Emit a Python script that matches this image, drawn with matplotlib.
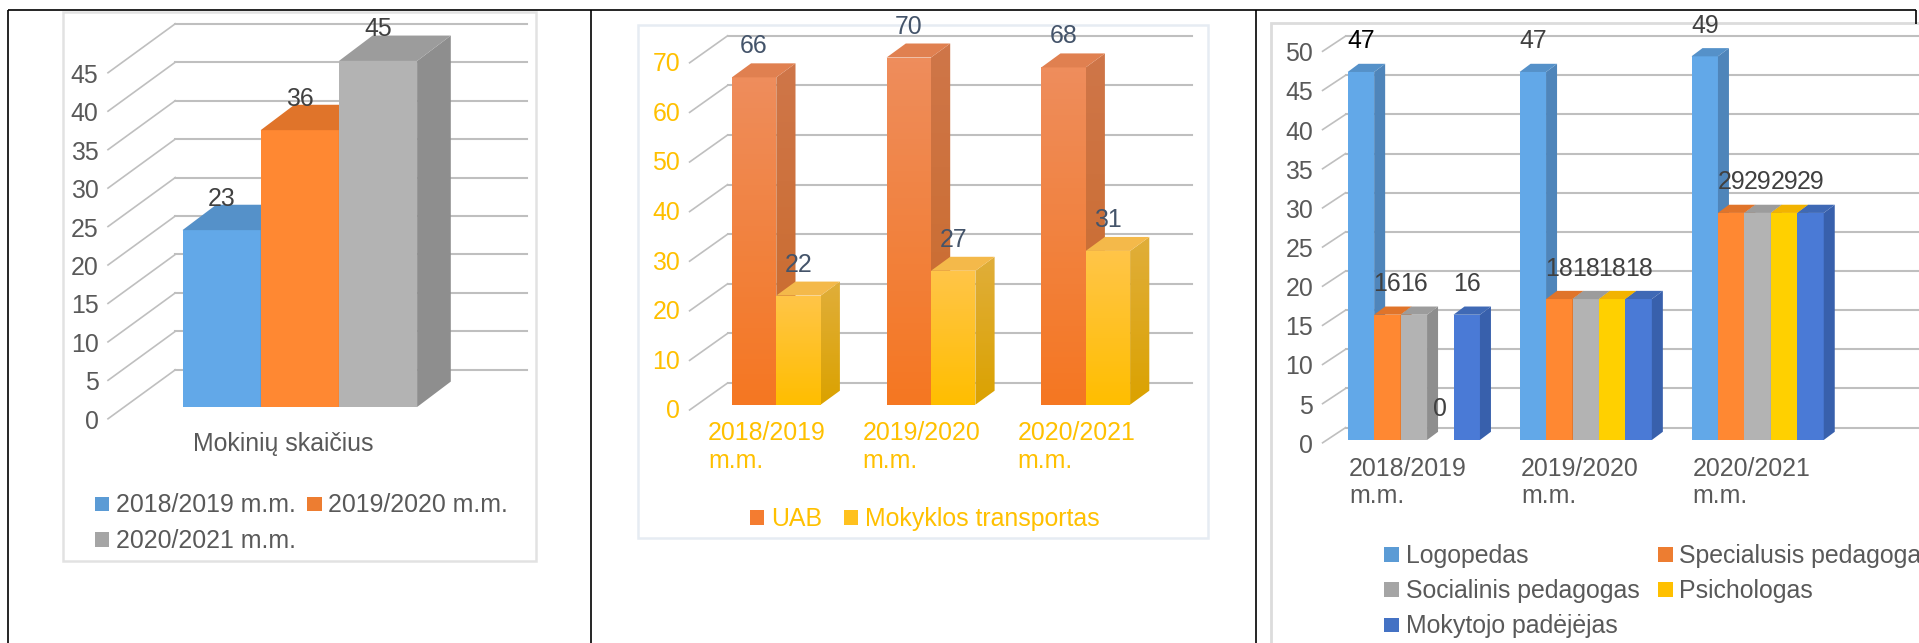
import matplotlib
matplotlib.use('Agg')
import matplotlib.pyplot as plt
import numpy as np
from matplotlib.colors import LinearSegmentedColormap
from matplotlib.patches import Polygon, Rectangle

plt.rcParams['font.family'] = ['Liberation Sans', 'DejaVu Sans']
W, H = 1919, 643
FS = 17.9
GRAY_TXT = '#595959'
LABEL_TXT = '#404040'
YELLOW = '#FFC000'

# chart 1
students_cat = ['Mokinių skaičius']
students_names = ['2018/2019 m.m.', '2019/2020 m.m.', '2020/2021 m.m.']
students_vals = [[23], [36], [45]]
students_ticks = [0, 5, 10, 15, 20, 25, 30, 35, 40, 45]

# chart 2
transport_cats = ['2018/2019\nm.m.', '2019/2020\nm.m.', '2020/2021\nm.m.']
transport_names = ['UAB', 'Mokyklos transportas']
uab = [66, 70, 68]
school_bus = [22, 27, 31]
transport_ticks = [0, 10, 20, 30, 40, 50, 60, 70]

# chart 3
staff_cats = ['2018/2019\nm.m.', '2019/2020\nm.m.', '2020/2021\nm.m.']
staff_names = ['Logopedas', 'Specialusis pedagogas', 'Socialinis pedagogas', 'Psichologas', 'Mokytojo padėjėjas']
logopedas = [47, 47, 49]
specialusis = [16, 18, 29]
socialinis = [16, 18, 29]
psichologas = [0, 18, 29]
padejejas = [16, 18, 29]
staff_ticks = [0, 5, 10, 15, 20, 25, 30, 35, 40, 45, 50]

fig = plt.figure(figsize=(W/100, H/100), dpi=100, facecolor='white')
bg = fig.add_axes([0, 0, 1, 1], zorder=0)
bg.set_xlim(0, W); bg.set_ylim(H, 0); bg.axis('off')

# table lines
for x0, y0, x1, y1 in [(8, 10, 1916, 10), (8, 10, 8, H), (591, 10, 591, H), (1255.5, 10, 1255.5, H), (1916, 10, 1916, 24)]:
    bg.plot([x0, x1], [y0, y1], color='black', lw=1.2, solid_capstyle='butt')
# chart boxes
bg.add_patch(Rectangle((63, 11.5), 473, 549, fc='white', ec='#E2E2E2', lw=1.8))
bg.add_patch(Rectangle((638, 25.4), 569.5, 513, fc='white', ec='#E6ECF3', lw=1.8))
bg.add_patch(Rectangle((1271, 23.4), 700, 700, fc='white', ec='#DCDCDC', lw=2))


def legend_item(x, y, color, text, tcolor=GRAY_TXT):
    bg.add_patch(Rectangle((x, y-7.3), 14.6, 14.6, fc=color, ec='none'))
    bg.text(x+21.5, y+1, text, color=tcolor, fontsize=FS, va='center', ha='left')


def make_ax(left, right, base, ppu, top, g0, pitch):
    ax = fig.add_axes([left/W, (H-base)/H, (right-left)/W, ppu*top/H], zorder=1)
    ax.set_xlim((left-g0)/pitch, (right-g0)/pitch)
    ax.set_ylim(0, top)
    ax.axis('off')
    return ax


def px_text(ax, x, y, dx, dy, s, **kw):
    # text placed at a data point plus an offset in pixels (dy down)
    kw.setdefault('fontsize', FS)
    ax.annotate(s, (x, y), xytext=(dx*0.72, -dy*0.72), textcoords='offset points',
                annotation_clip=False, **kw)


def walls(ax, ticks, ppu, pitch, wall_x, end_x, slant_dx, slant_dy, back_dy, tick_color, tick_dy=3):
    for v in ticks:
        yb = v + back_dy/ppu
        ax.plot([wall_x, end_x], [yb, yb], color='#BFBFBF', lw=1.5, zorder=1, clip_on=False)
        ax.plot([wall_x-slant_dx/pitch, wall_x], [yb-slant_dy/ppu, yb], color='#BFBFBF', lw=1.2, zorder=1, clip_on=False)
        px_text(ax, wall_x-slant_dx/pitch, yb-slant_dy/ppu, -9.5, tick_dy, str(v), color=tick_color, ha='right', va='center')


def gradient(ax, poly, c_top, c_bot, z):
    xs = [p[0] for p in poly]; ys = [p[1] for p in poly]
    cmap = LinearSegmentedColormap.from_list('g', [c_top, c_bot])
    im = ax.imshow(np.linspace(0, 1, 64).reshape(-1, 1), cmap=cmap, aspect='auto',
                   extent=(min(xs), max(xs), min(ys), max(ys)), origin='upper', zorder=z, clip_on=True)
    patch = Polygon(poly, transform=ax.transData, fc='none', ec='none')
    ax.add_patch(patch)
    im.set_clip_path(patch)


def bar3d(ax, x, v, w, ddx, ddy, front, side, top, z, grad=None):
    if v == 0:
        return
    xl, xr = x, x+w
    ax.bar(x, v, w, align='edge', color=front, edgecolor='none', zorder=z, clip_on=False)
    side_poly = [(xr, 0), (xr+ddx, ddy), (xr+ddx, v+ddy), (xr, v)]
    top_poly = [(xl, v), (xl+ddx, v+ddy), (xr+ddx, v+ddy), (xr, v)]
    if grad:
        xlim, ylim = ax.get_xlim(), ax.get_ylim()
        gradient(ax, [(xl, 0), (xr, 0), (xr, v), (xl, v)], grad[0], grad[1], z)
        gradient(ax, side_poly, grad[2], grad[3], z)
        ax.set_xlim(xlim); ax.set_ylim(ylim)
    else:
        ax.add_patch(Polygon(side_poly, fc=side, ec='none', zorder=z))
    ax.add_patch(Polygon(top_poly, fc=top, ec='none', zorder=z))


# chart 1
pitch, ppu, w = 234.6, 7.69, 78.2 / 234.6
ax1 = make_ax(100, 530, 407, ppu, 50, 182.5, pitch)
walls(ax1, students_ticks, ppu, pitch, (175.3-182.5)/pitch, (527-182.5)/pitch, 67.3, 49, 37.2, GRAY_TXT)
c1 = [('#62A8E8', '#4F85BA', '#5591C9'), ('#FF8832', '#C96A28', '#E0742A'), ('#B3B3B3', '#8E8E8E', '#9C9C9C')]
for j, vals in enumerate(students_vals):
    for g, v in enumerate(vals):
        bar3d(ax1, g+j*w, v, w, 33.7/pitch, 25.4/ppu, *c1[j], 5+j)
        px_text(ax1, g+(j+.5)*w, v, 0, -31.5, str(v), color=LABEL_TXT, ha='center', va='center', zorder=20)
px_text(ax1, (283-182.5)/pitch, 0, 0, 37, students_cat[0], color=GRAY_TXT, ha='center', va='center')
legend_item(94.5, 504, '#5B9BD5', students_names[0])
legend_item(307, 504, '#ED7D31', students_names[1])
legend_item(94.5, 539.6, '#A5A5A5', students_names[2])

# chart 2
pitch, ppu, w = 154.7, 4.96, 44.4 / 154.7
g0 = 731.9
ax2 = make_ax(690, 1195, 404.7, ppu, 80, g0, pitch)
walls(ax2, transport_ticks, ppu, pitch, (727.6-g0)/pitch, (1191.7-g0)/pitch, 38, 27, 21.7, YELLOW, tick_dy=1.5)
for g in range(len(transport_cats)):
    bar3d(ax2, g, uab[g], w, 19.2/pitch, 14/ppu, '#F47C30', None, '#E08050', 5,
          grad=('#EE8D5C', '#F57722', '#CF7649', '#C96A28'))
    bar3d(ax2, g+w, school_bus[g], w, 19.2/pitch, 14/ppu, YELLOW, None, '#F4B94A', 6,
          grad=('#FFC548', '#FFBE00', '#E0AE3A', '#DBA200'))
    px_text(ax2, g+.5*w, uab[g], 0, -31, str(uab[g]), color='#44546A', ha='center', va='center', zorder=20)
    px_text(ax2, g+1.5*w, school_bus[g], 0, -31, str(school_bus[g]), color='#44546A', ha='center', va='center', zorder=20)
    px_text(ax2, g+(708-g0)/pitch, 0, 0, 42.5, transport_cats[g], color=YELLOW, ha='left', va='center', linespacing=1.2)
legend_item(749.8, 517.8, '#F47C30', transport_names[0], YELLOW)
legend_item(843.8, 517.8, '#FFC11E', transport_names[1], YELLOW)

# chart 3
pitch, ppu, w = 171.9, 7.83, 26.45 / 171.9
g0 = 1347.7
ax3 = make_ax(1320, W, 440, ppu, 55, g0, pitch)
walls(ax3, staff_ticks, ppu, pitch, (1345.6-g0)/pitch, (1925-g0)/pitch, 23, 15.2, 12.4, GRAY_TXT)
c3 = [('#62A8E8', '#4F85BA', '#5591C9'), ('#FF8832', '#C96A28', '#E0742A'), ('#B3B3B3', '#8E8E8E', '#9C9C9C'),
      ('#FFD000', '#D9A600', '#F2B300'), ('#4A7AD6', '#3860AC', '#3F69B5')]
staff_series = [logopedas, specialusis, socialinis, psichologas, padejejas]
for g in range(len(staff_cats)):
    for j, vals in enumerate(staff_series):
        v = vals[g]
        bar3d(ax3, g+j*w, v, w, 11/pitch, 8.2/ppu, *c3[j], 5+j)
        tc = 'black' if (g == 0 and j == 0) else LABEL_TXT
        px_text(ax3, g+(j+.5)*w, v, 0, -30.5, str(v), color=tc, ha='center', va='center', zorder=20)
    px_text(ax3, g+(1349-g0)/pitch, 0, 0, 42.5, staff_cats[g], color=GRAY_TXT, ha='left', va='center', linespacing=1.2)
legend_item(1384.4, 554.7, '#5B9BD5', staff_names[0])
legend_item(1657.9, 554.7, '#ED7D31', staff_names[1])
legend_item(1384.4, 589.6, '#A5A5A5', staff_names[2])
legend_item(1657.9, 589.6, YELLOW, staff_names[3])
legend_item(1384.4, 624.8, '#4472C4', staff_names[4])

fig.savefig('out.png', dpi=100)
